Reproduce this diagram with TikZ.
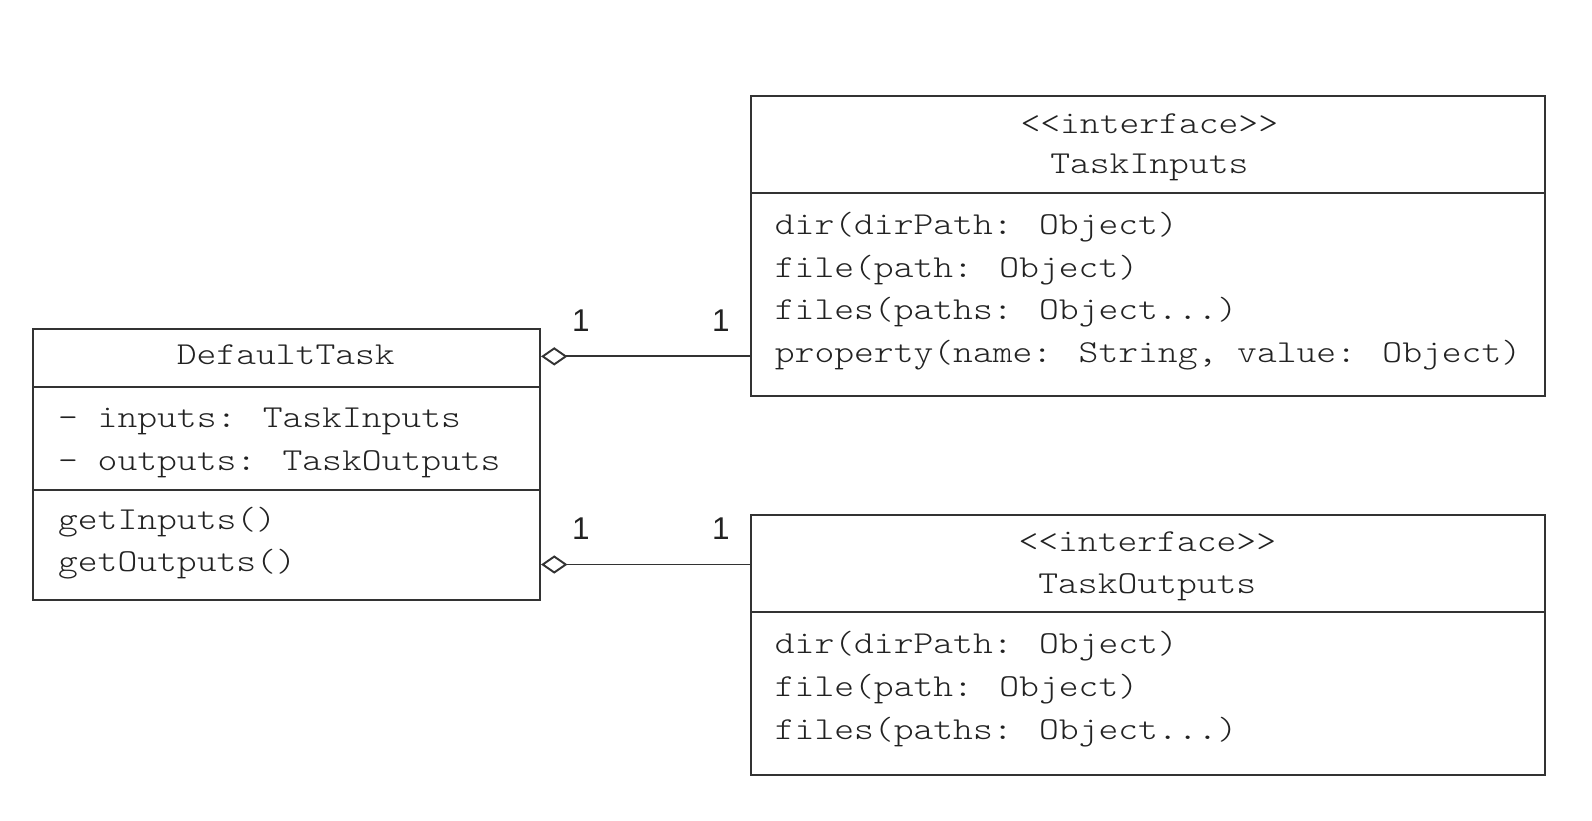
\documentclass[tikz,border=0pt]{standalone}
\usepackage{fontspec}
\setmainfont{Liberation Sans}
\newfontfamily\cmono[FakeStretch=1.18]{lmmonolt10-regular.otf}
\usetikzlibrary{arrows.meta}
\definecolor{ln}{HTML}{333333}
\definecolor{tx}{HTML}{222222}
\tikzset{
  cbox/.style={draw=ln, line width=1.9pt, anchor=north west, inner sep=0pt},
  dv/.style={draw=ln, line width=1.9pt},
  mono/.style={font=\cmono\fontsize{31.5}{40}\selectfont, text=tx, inner sep=0pt},
  txl/.style={mono, anchor=base west},
  txc/.style={mono, anchor=base},
  mult/.style={font=\rmfamily\fontsize{31}{36}\selectfont, text=tx, inner sep=0pt},
  agg/.style={draw=ln, line width=1.9pt, -{Diamond[open, length=26pt, width=18pt, line width=1.9pt]}}
}
\begin{document}
\begin{tikzpicture}[x=1pt,y=-1pt]
\useasboundingbox (0,0) rectangle (1568,808);
% DefaultTask
\node[cbox, minimum width=499pt, minimum height=267pt] (dt) at (32,323) {};
\draw[dv] (dt.west |- 0,381) -- (dt.east |- 0,381);
\draw[dv] (dt.west |- 0,483) -- (dt.east |- 0,483);
\node[txc] (dtname) at (281.5,359) {DefaultTask};
\node[txl] (dta1) at (57,421) {- inputs: TaskInputs};
\node[txl] (dta2) at (57,463) {- outputs: TaskOutputs};
\node[txl] (dtm1) at (57,522) {getInputs()};
\node[txl] (dtm2) at (57,563) {getOutputs()};
% TaskInputs
\node[cbox, minimum width=782pt, minimum height=295pt] (ti) at (739,94) {};
\draw[dv] (ti.west |- 0,190) -- (ti.east |- 0,190);
\node[txc] (tist) at (1132,131) {<{}<interface>{}>};
\node[txc] (tiname) at (1132,171) {TaskInputs};
\node[txl] (tim1) at (763,231) {dir(dirPath: Object)};
\node[txl] (tim2) at (763,273) {file(path: Object)};
\node[txl] (tim3) at (763,315) {files(paths: Object...)};
\node[txl] (tim4) at (763,357) {property(name: String, value: Object)};
% TaskOutputs
\node[cbox, minimum width=782pt, minimum height=256pt] (to) at (739,506) {};
\draw[dv] (to.west |- 0,603) -- (to.east |- 0,603);
\node[txc] (tost) at (1130,543) {<{}<interface>{}>};
\node[txc] (toname) at (1130,585) {TaskOutputs};
\node[txl] (tom1) at (763,644) {dir(dirPath: Object)};
\node[txl] (tom2) at (763,686) {file(path: Object)};
\node[txl] (tom3) at (763,728) {files(paths: Object...)};
% connectors
\coordinate (c1) at (0,351);
\coordinate (c2) at (0,556);
\draw[agg] (ti.west |- c1) -- (dt.east |- c1);
\draw[agg] (to.west |- c2) -- (dt.east |- c2);
\node[mult] (m1a) at (572,316) {1};
\node[mult] (m1b) at (710,316) {1};
\node[mult] (m2a) at (572,521) {1};
\node[mult] (m2b) at (710,521) {1};
\end{tikzpicture}
\end{document}
